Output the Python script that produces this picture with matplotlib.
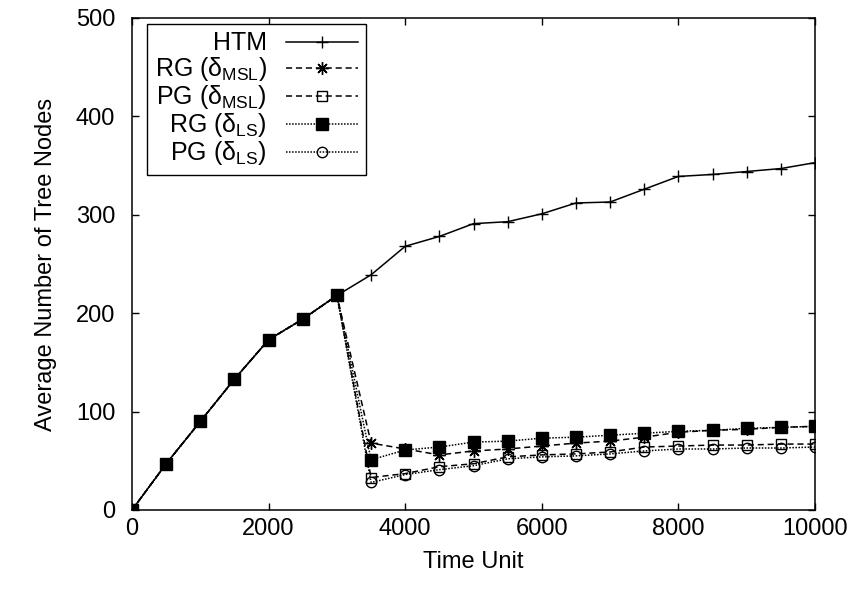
import matplotlib
matplotlib.use("Agg")
import matplotlib.pyplot as plt

plt.rcParams['font.family'] = ['Liberation Sans', 'DejaVu Sans']
plt.rcParams['mathtext.fontset'] = 'custom'
plt.rcParams['mathtext.rm'] = 'Liberation Sans'
plt.rcParams['mathtext.it'] = 'Liberation Sans'
plt.rcParams['mathtext.bf'] = 'Liberation Sans'

# Data
time_unit = [0, 500, 1000, 1500, 2000, 2500, 3000, 3500, 4000, 4500, 5000,
             5500, 6000, 6500, 7000, 7500, 8000, 8500, 9000, 9500, 10000]
common_start = [0, 47, 90, 133, 173, 194, 218]
htm = common_start + [239, 268, 278, 291, 293, 301, 312, 313, 326, 339, 341, 344, 347, 353]
rg_msl = common_start + [68, 62, 56, 60, 62, 65, 68, 70, 74, 79, 81, 82, 84, 85]
pg_msl = common_start + [33, 37, 44, 47, 54, 56, 57, 59, 64, 65, 66, 66, 67, 67]
rg_ls = common_start + [51, 61, 64, 69, 70, 73, 74, 76, 78, 80, 81, 83, 84, 85]
pg_ls = common_start + [28, 36, 41, 45, 52, 54, 55, 57, 60, 62, 62, 63, 63, 64]

labels = ['HTM',
          r'RG ($\delta_{\mathrm{MSL}}$)',
          r'PG ($\delta_{\mathrm{MSL}}$)',
          r'RG ($\delta_{\mathrm{LS}}$)',
          r'PG ($\delta_{\mathrm{LS}}$)']
x_ticks = [0, 2000, 4000, 6000, 8000, 10000]
y_ticks = [0, 100, 200, 300, 400, 500]

FS = 17
LFS = 18

fig = plt.figure(figsize=(8.6, 5.96), dpi=100)
ax = fig.add_axes([0.1535, 0.1443, 0.7942, 0.8255])

ax.plot(time_unit, htm, color='black', lw=1.1, ls='-', marker='+', ms=9, mew=1.0, label=labels[0])
ax.plot(time_unit, rg_msl, color='black', lw=1.1, ls=(0, (4, 2.5)), marker=(8, 2, 0), ms=9, mew=1.0, label=labels[1])
ax.plot(time_unit, pg_msl, color='black', lw=1.1, ls=(0, (4, 2.5)), marker='s', ms=7.5, mew=1.0,
        fillstyle='none', label=labels[2])
ax.plot(time_unit, rg_ls, color='black', lw=1.1, ls=(0, (1, 1)), marker='s', ms=8.5, mew=1.0, label=labels[3])
ax.plot(time_unit, pg_ls, color='black', lw=1.1, ls=(0, (1, 1)), marker='o', ms=7.5, mew=1.0,
        fillstyle='none', label=labels[4])

ax.set_xlim(0, 10000)
ax.set_ylim(0, 500)
ax.set_xticks(x_ticks)
ax.set_yticks(y_ticks)
ax.tick_params(direction='in', length=5, width=1, top=True, right=True, labelsize=FS)
ax.tick_params(axis='x', pad=6)
ax.tick_params(axis='y', pad=12)
for s in ax.spines.values():
    s.set_linewidth(1.1)

ax.set_xlabel('Time Unit', fontsize=FS, labelpad=8)
ax.set_ylabel('Average Number of Tree Nodes', fontsize=FS, labelpad=14)

leg = ax.legend(loc='upper left', bbox_to_anchor=(0.022, 0.988), markerfirst=False, fontsize=LFS,
                handlelength=2.9, handletextpad=0.75, labelspacing=0.0, borderpad=0.3,
                borderaxespad=0.0, fancybox=False, framealpha=1, edgecolor='black')
leg.get_frame().set_linewidth(1.0)

fig.savefig('out.png', dpi=100)
